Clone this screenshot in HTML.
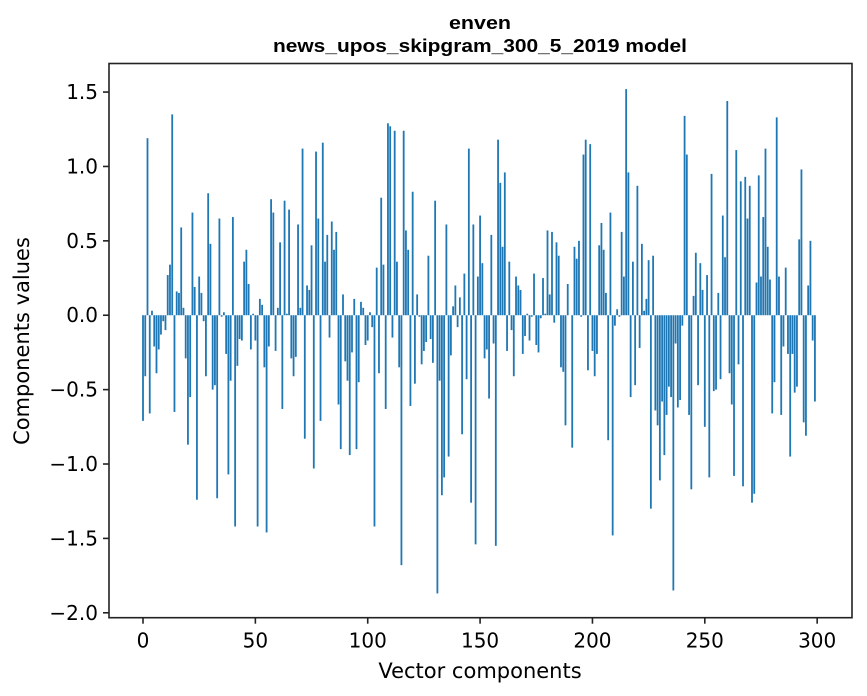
<!DOCTYPE html>
<html><head><meta charset="utf-8">
<style>
html,body{margin:0;padding:0;background:#fff;}
svg{display:block;}
.tick{font-family:"DejaVu Sans","Liberation Sans",sans-serif;font-size:20px;fill:#000;}
.lab{font-family:"DejaVu Sans","Liberation Sans",sans-serif;font-size:21px;fill:#000;}
.ttl{font-family:"Liberation Sans",Arial,sans-serif;font-size:18px;font-weight:bold;fill:#000;}
</style></head>
<body>
<svg id="chart" width="867" height="696" viewBox="0 0 867 696" xmlns="http://www.w3.org/2000/svg">
<rect x="0" y="0" width="867" height="696" fill="#fff"/>
<text class="ttl" x="480" y="29" text-anchor="middle" textLength="62" lengthAdjust="spacingAndGlyphs">enven</text>
<text class="ttl" x="480" y="52" text-anchor="middle" textLength="414" lengthAdjust="spacingAndGlyphs">news_upos_skipgram_300_5_2019 model</text>
<g id="bars"></g>
<g id="axes"></g>
<text class="lab" x="480" y="678" text-anchor="middle">Vector components</text>
<text class="lab" transform="translate(29,341) rotate(-90)" text-anchor="middle">Components values</text>
</svg>
<script>
const values = [
-0.71,-0.41,1.19,-0.66,0.03,-0.21,-0.39,-0.23,-0.13,-0.04,
-0.10,0.27,0.34,1.35,-0.65,0.16,0.15,0.59,0.05,-0.29,
-0.87,-0.55,0.69,0.19,-1.24,0.26,0.15,-0.04,-0.41,0.82,
0.48,-0.50,-0.47,-1.23,0.65,-0.01,0.02,-0.26,-1.07,-0.44,
0.66,-1.42,-0.34,-0.16,-0.17,0.36,0.44,0.21,-0.23,0.01,
-0.17,-1.42,0.11,0.07,-0.35,-1.46,-0.21,0.78,0.69,-0.24,
0.05,0.49,-0.63,0.77,0.01,0.71,-0.29,-0.41,-0.28,0.61,
0.05,1.12,-0.83,0.20,0.17,0.47,-1.03,1.10,0.65,-0.71,
1.16,0.36,0.54,-0.15,0.63,0.44,0.56,-0.60,-0.90,0.14,
-0.31,-0.44,-0.94,-0.25,0.11,-0.90,-0.45,0.09,0.05,-0.20,
-0.17,0.02,-0.08,-1.42,0.32,-0.39,0.79,0.34,-0.63,1.29,
1.27,-0.15,1.24,0.36,-0.35,-1.68,1.24,0.57,0.44,-0.61,
0.83,-0.46,0.14,-0.01,-0.33,-0.24,-0.18,0.40,-0.16,-0.32,
0.77,-1.87,-0.44,-1.21,-1.09,0.61,-0.95,-0.27,0.06,0.20,
-0.08,0.12,-0.80,0.28,-0.43,1.12,-1.26,0.61,-1.54,0.26,
0.67,0.35,-0.29,-0.23,-0.56,0.54,-0.19,-1.55,1.18,0.89,
0.46,0.96,-0.24,0.36,-0.10,-0.41,0.26,0.20,0.17,-0.26,
-0.14,0.01,-0.17,-0.01,0.28,-0.20,-0.25,-0.02,0.25,0.01,
0.57,0.14,0.56,-0.05,0.49,0.40,-0.35,-0.38,-0.74,0.21,
0.00,-0.89,0.46,0.38,0.50,-0.01,1.08,1.18,-0.37,1.15,
-0.24,-0.41,-0.26,0.47,0.62,0.44,0.15,-0.84,0.69,-1.48,
-0.07,0.04,-0.01,0.56,0.26,1.52,0.96,-0.55,0.36,-0.47,
0.87,-0.22,0.48,0.03,0.11,0.37,-1.30,0.40,-0.64,-0.74,
-1.11,-0.58,-0.94,-0.67,-0.48,-0.55,-1.85,-0.19,-0.62,-0.57,
-0.07,1.34,1.08,-0.67,-1.17,0.13,0.42,-0.47,0.35,0.17,
-0.75,0.27,-1.09,0.95,-0.51,-0.50,0.15,-0.43,0.67,0.39,
1.44,-0.39,-0.60,-1.08,1.11,-0.33,0.90,-1.15,0.93,0.65,
0.87,-1.26,-1.20,0.22,0.94,0.26,0.66,1.12,0.46,0.24,
-0.66,-0.45,1.33,0.26,-0.67,-0.21,0.32,-0.26,-0.95,-0.26,
-0.52,-0.48,0.51,0.98,-0.72,-0.81,0.20,0.50,-0.17,-0.58
];
const xTicks = [0,50,100,150,200,250,300];
const yTicks = [-2.0,-1.5,-1.0,-0.5,0.0,0.5,1.0,1.5];
const yTickLabels = ["\u22122.0","\u22121.5","\u22121.0","\u22120.5","0.0","0.5","1.0","1.5"];

const L=109, R=852, T=63.5, B=617.7;
const xMin=-15.13, xMax=315.5, yMin=-2.033, yMax=1.692;
function xs(v){return L+(v-xMin)/(xMax-xMin)*(R-L);}
function ys(v){return B-(v-yMin)/(yMax-yMin)*(B-T);}
const NS="http://www.w3.org/2000/svg";
const bars=document.getElementById('bars');
const axes=document.getElementById('axes');
values.forEach((v,i)=>{
  const r=document.createElementNS(NS,'rect');
  const x0=xs(i-0.4), x1=xs(i+0.4);
  const y0=ys(Math.max(v,0)), y1=ys(Math.min(v,0));
  r.setAttribute('x',x0);r.setAttribute('width',x1-x0);
  r.setAttribute('y',y0);r.setAttribute('height',Math.max(y1-y0,0.01));
  r.setAttribute('fill','#1f77b4');
  
  
  bars.appendChild(r);
});
const frame=document.createElementNS(NS,'rect');
frame.setAttribute('x',L);frame.setAttribute('y',T);
frame.setAttribute('width',R-L);frame.setAttribute('height',B-T);
frame.setAttribute('fill','none');frame.setAttribute('stroke','#222');frame.setAttribute('stroke-width','1.6');


axes.appendChild(frame);
xTicks.forEach(t=>{
  const x=xs(t);
  const ln=document.createElementNS(NS,'line');
  ln.setAttribute('x1',x);ln.setAttribute('x2',x);ln.setAttribute('y1',B);ln.setAttribute('y2',B+6);
  ln.setAttribute('stroke','#222');ln.setAttribute('stroke-width','1.6');
  
  
  axes.appendChild(ln);
  const tx=document.createElementNS(NS,'text');
  tx.setAttribute('x',x);tx.setAttribute('y',B+30);tx.setAttribute('text-anchor','middle');
  tx.setAttribute('class','tick');tx.textContent=String(t);
  
  
  axes.appendChild(tx);
});
yTicks.forEach((t,k)=>{
  const y=ys(t);
  const ln=document.createElementNS(NS,'line');
  ln.setAttribute('x1',L-6);ln.setAttribute('x2',L);ln.setAttribute('y1',y);ln.setAttribute('y2',y);
  ln.setAttribute('stroke','#222');ln.setAttribute('stroke-width','1.6');
  
  
  axes.appendChild(ln);
  const tx=document.createElementNS(NS,'text');
  tx.setAttribute('x',L-11);tx.setAttribute('y',y+7);tx.setAttribute('text-anchor','end');
  tx.setAttribute('class','tick');tx.textContent=yTickLabels[k];
  
  
  axes.appendChild(tx);
});
</script>
</body></html>
